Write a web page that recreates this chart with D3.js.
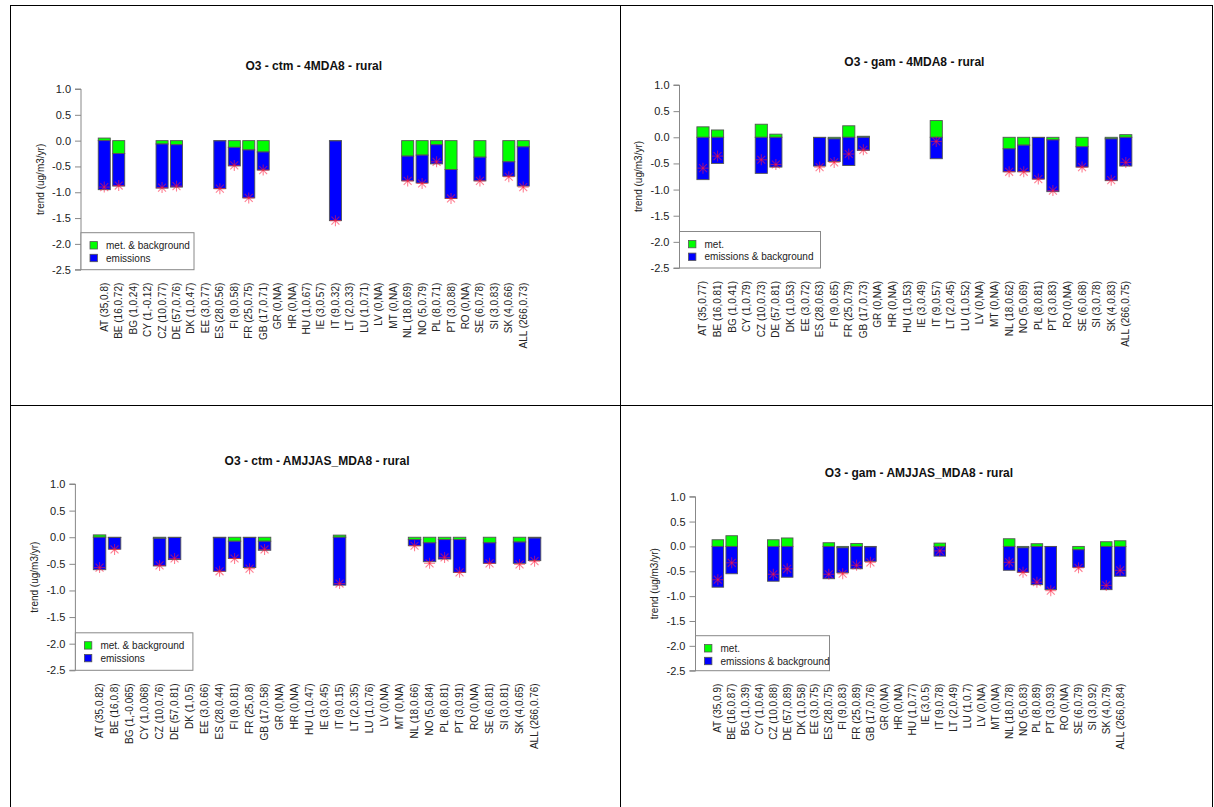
<!DOCTYPE html>
<html><head><meta charset="utf-8">
<script src="https://cdn.jsdelivr.net/npm/d3@7"></script>
<style>
html,body{margin:0;padding:0;background:#fff;}
svg{display:block;font-family:"Liberation Sans",Arial,Helvetica,sans-serif;}
</style></head>
<body>
<svg id="chart" width="1214" height="807"></svg>
<script>
// ---------------- data ----------------
const categories = ["AT","BE","BG","CY","CZ","DE","DK","EE","ES","FI","FR","GB","GR","HR","HU","IE","IT","LT","LU","LV","MT","NL","NO","PL","PT","RO","SE","SI","SK","ALL"];
const yTicks = [1.0, 0.5, 0.0, -0.5, -1.0, -1.5, -2.0, -2.5];

// panel 1: ctm - 4MDA8
const labels_ctm_4 = ["AT (35,0.8)","BE (16,0.72)","BG (1,0.24)","CY (1,-0.12)","CZ (10,0.77)","DE (57,0.76)","DK (1,0.47)","EE (3,0.77)","ES (28,0.56)","FI (9,0.58)","FR (25,0.75)","GB (17,0.71)","GR (0,NA)","HR (0,NA)","HU (1,0.67)","IE (3,0.57)","IT (9,0.32)","LT (2,0.33)","LU (1,0.71)","LV (0,NA)","MT (0,NA)","NL (18,0.69)","NO (5,0.79)","PL (8,0.71)","PT (3,0.88)","RO (0,NA)","SE (6,0.78)","SI (3,0.83)","SK (4,0.66)","ALL (266,0.73)"];
const met_ctm_4   = [0.05,-0.25,null,null,-0.065,-0.08,null,null,-0.005,-0.13,-0.18,-0.22,null,null,null,null,-0.005,null,null,null,null,-0.30,-0.28,-0.08,-0.56,null,-0.32,null,-0.41,-0.12];
const emis_ctm_4  = [-0.95,-0.63,null,null,-0.855,-0.82,null,null,-0.925,-0.36,-0.93,-0.35,null,null,null,null,-1.545,null,null,null,null,-0.48,-0.54,-0.37,-0.56,null,-0.46,null,-0.28,-0.76];
const total_ctm_4 = [-0.90,-0.87,null,null,-0.91,-0.88,null,null,-0.93,-0.48,-1.11,-0.57,null,null,null,null,-1.55,null,null,null,null,-0.78,-0.83,-0.41,-1.12,null,-0.78,null,-0.70,-0.90];

// panel 2: gam - 4MDA8
const labels_gam_4 = ["AT (35,0.77)","BE (16,0.81)","BG (1,0.41)","CY (1,0.79)","CZ (10,0.73)","DE (57,0.81)","DK (1,0.53)","EE (3,0.72)","ES (28,0.63)","FI (9,0.65)","FR (25,0.79)","GB (17,0.73)","GR (0,NA)","HR (0,NA)","HU (1,0.53)","IE (3,0.49)","IT (9,0.57)","LT (2,0.45)","LU (1,0.52)","LV (0,NA)","MT (0,NA)","NL (18,0.62)","NO (5,0.69)","PL (8,0.81)","PT (3,0.83)","RO (0,NA)","SE (6,0.68)","SI (3,0.78)","SK (4,0.83)","ALL (266,0.75)"];
const met_gam_4   = [0.20,0.14,null,null,0.25,0.06,null,null,-0.005,-0.03,0.22,0.02,null,null,null,null,0.32,null,null,null,null,-0.22,-0.15,-0.005,-0.05,null,-0.18,null,-0.03,0.05];
const emis_gam_4  = [-0.81,-0.50,null,null,-0.69,-0.57,null,null,-0.545,-0.435,-0.54,-0.25,null,null,null,null,-0.41,null,null,null,null,-0.44,-0.51,-0.795,-0.99,null,-0.39,null,-0.80,-0.55];
const total_gam_4 = [-0.59,-0.36,null,null,-0.43,-0.52,null,null,-0.57,-0.48,-0.32,-0.24,null,null,null,null,-0.08,null,null,null,null,-0.66,-0.66,-0.80,-1.02,null,-0.57,null,-0.82,-0.48];

// panel 3: ctm - AMJJAS_MDA8
const labels_ctm_s = ["AT (35,0.82)","BE (16,0.8)","BG (1,-0.065)","CY (1,0.068)","CZ (10,0.76)","DE (57,0.81)","DK (1,0.5)","EE (3,0.66)","ES (28,0.44)","FI (9,0.81)","FR (25,0.8)","GB (17,0.58)","GR (0,NA)","HR (0,NA)","HU (1,0.47)","IE (3,0.45)","IT (9,0.15)","LT (2,0.35)","LU (1,0.76)","LV (0,NA)","MT (0,NA)","NL (18,0.66)","NO (5,0.84)","PL (8,0.81)","PT (3,0.91)","RO (0,NA)","SE (6,0.81)","SI (3,0.81)","SK (4,0.65)","ALL (266,0.76)"];
const met_ctm_s   = [0.044,-0.004,null,null,-0.02,-0.005,null,null,-0.01,-0.075,-0.005,-0.075,null,null,null,null,0.04,null,null,null,null,-0.045,-0.105,-0.045,-0.045,null,-0.105,null,-0.09,-0.015];
const emis_ctm_s  = [-0.61,-0.221,null,null,-0.52,-0.415,null,null,-0.63,-0.325,-0.565,-0.17,null,null,null,null,-0.90,null,null,null,null,-0.115,-0.355,-0.365,-0.615,null,-0.385,null,-0.40,-0.425];
const total_ctm_s = [-0.57,-0.23,null,null,-0.53,-0.40,null,null,-0.64,-0.40,-0.59,-0.23,null,null,null,null,-0.87,null,null,null,null,-0.16,-0.49,-0.38,-0.66,null,-0.49,null,-0.51,-0.45];

// panel 4: gam - AMJJAS_MDA8
const labels_gam_s = ["AT (35,0.9)","BE (16,0.87)","BG (1,0.39)","CY (1,0.64)","CZ (10,0.88)","DE (57,0.89)","DK (1,0.58)","EE (3,0.75)","ES (28,0.75)","FI (9,0.83)","FR (25,0.89)","GB (17,0.76)","GR (0,NA)","HR (0,NA)","HU (1,0.77)","IE (3,0.5)","IT (9,0.78)","LT (2,0.49)","LU (1,0.7)","LV (0,NA)","MT (0,NA)","NL (18,0.78)","NO (5,0.83)","PL (8,0.89)","PT (3,0.93)","RO (0,NA)","SE (6,0.79)","SI (3,0.92)","SK (4,0.79)","ALL (266,0.84)"];
const met_gam_s   = [0.134,0.215,null,null,0.134,0.17,null,null,0.074,-0.027,0.06,-0.01,null,null,null,null,0.067,null,null,null,null,0.154,-0.027,0.054,-0.004,null,-0.067,null,0.094,0.114];
const emis_gam_s  = [-0.82,-0.55,null,null,-0.70,-0.62,null,null,-0.65,-0.503,-0.45,-0.29,null,null,null,null,-0.195,null,null,null,null,-0.48,-0.493,-0.77,-0.866,null,-0.353,null,-0.87,-0.60];
const total_gam_s = [-0.67,-0.33,null,null,-0.56,-0.45,null,null,-0.56,-0.55,-0.38,-0.32,null,null,null,null,-0.09,null,null,null,null,-0.32,-0.52,-0.72,-0.89,null,-0.43,null,-0.785,-0.48];

// ---------------- layout ----------------
const panels = [
  {title:"O3 - ctm - 4MDA8 - rural", labels:labels_ctm_4, met:met_ctm_4, emis:emis_ctm_4, total:total_ctm_4,
   legend:["met. & background","emissions"], axisX:81, unitPx:12.04, yTop:89, yBot:269.7, legW:113, legH:37},
  {title:"O3 - gam - 4MDA8 - rural", labels:labels_gam_4, met:met_gam_4, emis:emis_gam_4, total:total_gam_4,
   legend:["met.","emissions & background"], axisX:679.5, unitPx:12.15, yTop:85, yBot:268, legW:141, legH:36.5},
  {title:"O3 - ctm - AMJJAS_MDA8 - rural", labels:labels_ctm_s, met:met_ctm_s, emis:emis_ctm_s, total:total_ctm_s,
   legend:["met. & background","emissions"], axisX:75.4, unitPx:12.5, yTop:484, yBot:670.3, legW:117.5, legH:37.5},
  {title:"O3 - gam - AMJJAS_MDA8 - rural", labels:labels_gam_s, met:met_gam_s, emis:emis_gam_s, total:total_gam_s,
   legend:["met.","emissions & background"], axisX:695.5, unitPx:11.56, yTop:496.7, yBot:670.7, legW:134, legH:35}
];

const svg = d3.select("#chart");
const GREEN = "#00ff00", BLUE = "#0000ff";
const fmt = v => d3.format(".1f")(v).replace("\u2212", "-");

// frame lines
const frame = svg.append("g").attr("stroke","#000").attr("stroke-width",1).attr("fill","none");
frame.append("rect").attr("x",10.5).attr("y",5.5).attr("width",1202).attr("height",802);
frame.append("line").attr("x1",620.5).attr("x2",620.5).attr("y1",5).attr("y2",807);
frame.append("line").attr("x1",10).attr("x2",1213).attr("y1",405.5).attr("y2",405.5);

panels.forEach(p => {
  const g = svg.append("g");
  const n = categories.length;
  const uMin = 0.2, uMax = 0.2 + 1.2*n - 0.2;
  const ext = (uMax - uMin) * 0.04;
  const x = d3.scaleLinear().domain([uMin - ext, uMax + ext])
    .range([p.axisX, p.axisX + (uMax - uMin + 2*ext) * p.unitPx]);
  const y = d3.scaleLinear().domain([-2.5, 1.0]).range([p.yBot, p.yTop]);
  const xMid = (x.range()[0] + x.range()[1]) / 2;

  // title
  g.append("text").attr("x", xMid).attr("y", p.yTop - 19.5)
    .attr("text-anchor","middle").attr("font-size",12).attr("font-weight","bold")
    .attr("fill","#111").text(p.title);

  // y axis
  const yAxis = d3.axisLeft(y).tickValues(yTicks).tickFormat(fmt).tickSize(6).tickPadding(4);
  const ya = g.append("g").attr("transform",`translate(${p.axisX},0)`).call(yAxis);
  ya.select(".domain").attr("stroke","#888").attr("d",`M-6,${y(1)}H0V${y(-2.5)}H-6`);
  ya.selectAll(".tick line").attr("stroke","#888");
  ya.selectAll(".tick text").attr("font-size",11).attr("fill","#222")
    .attr("font-family",'"Liberation Sans",Arial,sans-serif');
  ya.attr("font-size",11);

  // y title
  g.append("text").attr("transform",`translate(${p.axisX - 41},${(p.yTop + p.yBot)/2}) rotate(-90)`)
    .attr("text-anchor","middle").attr("dominant-baseline","central")
    .attr("font-size",10).attr("fill","#222").text("trend (ug/m3/yr)");

  // x labels
  categories.forEach((c, i) => {
    const cx = x(0.7 + 1.2*i);
    g.append("text").attr("transform",`translate(${cx},${p.yBot + 13}) rotate(-90)`)
      .attr("text-anchor","end").attr("dominant-baseline","central")
      .attr("font-size",10).attr("fill","#222").text(p.labels[i]);
  });

  // bars
  categories.forEach((c, i) => {
    const m = p.met[i], e = p.emis[i];
    if (m === null || e === null) return;
    const x0 = x(0.2 + 1.2*i), x1 = x(1.2 + 1.2*i);
    const greenTop = Math.max(0, m), greenBot = Math.min(0, m);
    const blueTop = m < 0 ? m : 0, blueBot = blueTop + e;
    g.append("rect").attr("x",x0).attr("width",x1-x0)
      .attr("y",y(greenTop)).attr("height",Math.max(0.01,y(greenBot)-y(greenTop)))
      .attr("fill",GREEN).attr("stroke","#555").attr("stroke-width",0.9);
    g.append("rect").attr("x",x0).attr("width",x1-x0)
      .attr("y",y(blueTop)).attr("height",y(blueBot)-y(blueTop))
      .attr("fill",BLUE).attr("stroke","#555").attr("stroke-width",0.9);
  });

  // asterisks (total)
  categories.forEach((c, i) => {
    const t = p.total[i];
    if (t === null) return;
    const cx = x(0.7 + 1.2*i), cy = y(t), r = 5.5;
    const s = g.append("g").attr("stroke","#ff1a3a").attr("stroke-opacity",0.55).attr("stroke-width",1.1);
    s.append("line").attr("x1",cx-r).attr("x2",cx+r).attr("y1",cy).attr("y2",cy);
    s.append("line").attr("x1",cx).attr("x2",cx).attr("y1",cy-r).attr("y2",cy+r);
    const d = r*0.72;
    s.append("line").attr("x1",cx-d).attr("x2",cx+d).attr("y1",cy-d).attr("y2",cy+d);
    s.append("line").attr("x1",cx-d).attr("x2",cx+d).attr("y1",cy+d).attr("y2",cy-d);
  });

  // legend
  const lx = p.axisX, ly = p.yBot - p.legH;
  const lg = g.append("g");
  lg.append("rect").attr("x",lx).attr("y",ly).attr("width",p.legW).attr("height",p.legH)
    .attr("fill","#fff").attr("stroke","#888").attr("stroke-width",1);
  [GREEN, BLUE].forEach((col, k) => {
    const cy = ly + 12.6 + k*12.7;
    lg.append("rect").attr("x",lx+9).attr("y",cy-3.7).attr("width",7.4).attr("height",7.4)
      .attr("fill",col).attr("stroke","#555").attr("stroke-width",0.8);
    lg.append("text").attr("x",lx+25).attr("y",cy).attr("dominant-baseline","central")
      .attr("font-size",10).attr("fill","#222").text(p.legend[k]);
  });
});
</script>
</body></html>
